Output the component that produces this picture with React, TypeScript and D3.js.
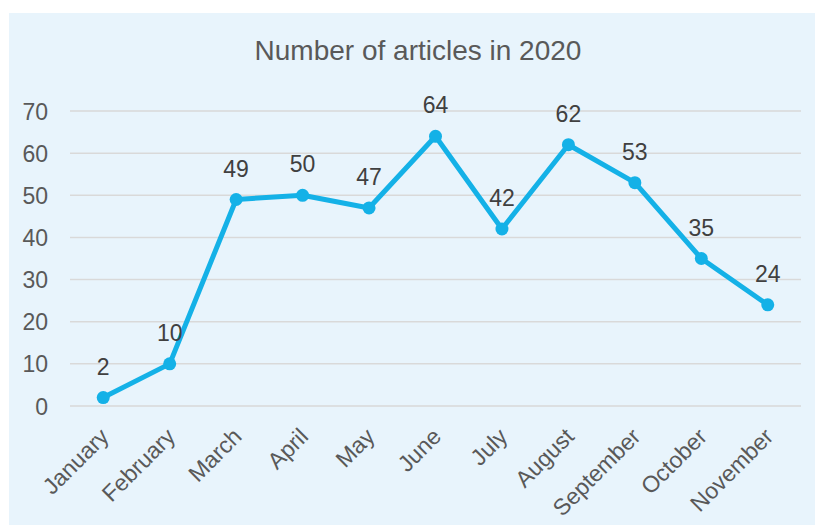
import React, { useEffect, useRef } from 'react';
import * as d3 from 'd3';

const months = [
  'January', 'February', 'March', 'April', 'May', 'June',
  'July', 'August', 'September', 'October', 'November',
];
const articles = [2, 10, 49, 50, 47, 64, 42, 62, 53, 35, 24];
const yTicks = [0, 10, 20, 30, 40, 50, 60, 70];
const title = 'Number of articles in 2020';

const W = 815;
const H = 525;
const FONT = 'Arial, "Liberation Sans", sans-serif';

const App: React.FC = () => {
  const ref = useRef<SVGSVGElement | null>(null);

  useEffect(() => {
    if (!ref.current) return;
    const svg = d3.select(ref.current);
    svg.selectAll('*').remove();

    // chart area background
    svg.append('rect')
      .attr('x', 9).attr('y', 13)
      .attr('width', W - 9).attr('height', H - 13)
      .attr('fill', '#e8f4fc');

    const left = 70, right = 801, top = 111, bottom = 406;

    const x = d3.scalePoint<string>()
      .domain(months)
      .range([left, right])
      .padding(0.5);

    const y = d3.scaleLinear()
      .domain([0, 70])
      .range([bottom, top]);

    // gridlines
    svg.append('g')
      .selectAll('line')
      .data(yTicks)
      .enter()
      .append('line')
      .attr('x1', left).attr('x2', right)
      .attr('y1', d => y(d)).attr('y2', d => y(d))
      .attr('stroke', '#d9d9d9')
      .attr('stroke-width', 1.5);

    // y labels
    svg.append('g')
      .selectAll('text')
      .data(yTicks)
      .enter()
      .append('text')
      .attr('x', 48)
      .attr('y', d => y(d) + 8.5)
      .attr('text-anchor', 'end')
      .style('font-family', FONT)
      .style('font-size', '23px')
      .style('fill', '#595959')
      .text(d => d);

    // x labels, rotated
    svg.append('g')
      .selectAll('text')
      .data(months)
      .enter()
      .append('text')
      .attr('transform', d => `translate(${(x(d) || 0) + 7},${438}) rotate(-45)`)
      .attr('text-anchor', 'end')
      .style('font-family', FONT)
      .style('font-size', '23px')
      .style('fill', '#595959')
      .text(d => d);

    const pts = months.map((m, i) => ({ m, v: articles[i] }));

    const line = d3.line<{ m: string; v: number }>()
      .x(d => x(d.m) || 0)
      .y(d => y(d.v));

    svg.append('path')
      .datum(pts)
      .attr('d', line)
      .attr('fill', 'none')
      .attr('stroke', '#14b1e7')
      .attr('stroke-width', 5)
      .attr('stroke-linejoin', 'round');

    svg.append('g')
      .selectAll('circle')
      .data(pts)
      .enter()
      .append('circle')
      .attr('cx', d => x(d.m) || 0)
      .attr('cy', d => y(d.v))
      .attr('r', 6.5)
      .attr('fill', '#14b1e7');

    // data labels
    svg.append('g')
      .selectAll('text')
      .data(pts)
      .enter()
      .append('text')
      .attr('x', d => x(d.m) || 0)
      .attr('y', d => y(d.v) - 23)
      .attr('text-anchor', 'middle')
      .style('font-family', FONT)
      .style('font-size', '23px')
      .style('fill', '#404040')
      .text(d => d.v);

    // title
    svg.append('text')
      .attr('x', 418)
      .attr('y', 60)
      .attr('text-anchor', 'middle')
      .style('font-family', FONT)
      .style('font-size', '28px')
      .style('fill', '#595959')
      .text(title);
  }, []);

  return (
    <svg
      ref={ref}
      width={W}
      height={H}
      style={{ position: 'absolute', left: 0, top: 0, display: 'block' }}
    />
  );
};

export default App;
